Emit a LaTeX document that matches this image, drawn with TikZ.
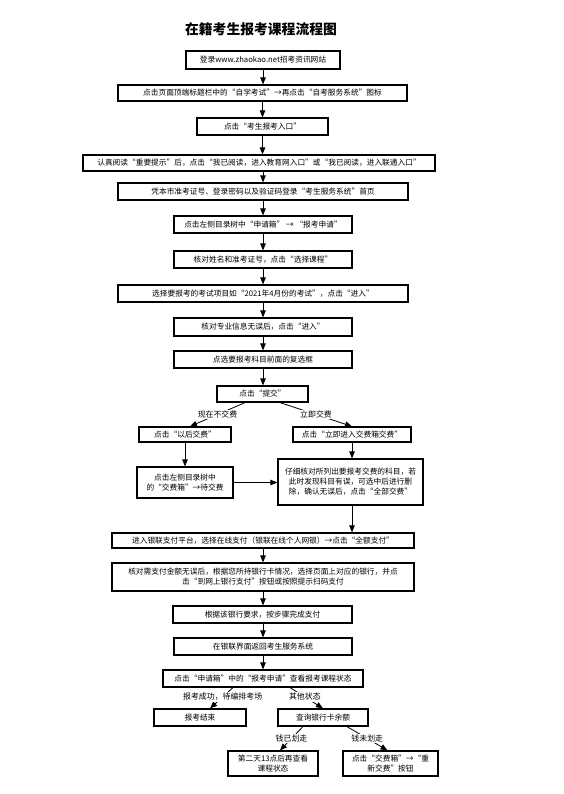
\documentclass[tikz,border=0pt]{standalone}
\usepackage{fontspec}
\setmainfont{Noto Sans CJK SC}
\usetikzlibrary{arrows.meta,calc}
\begin{document}
\begin{tikzpicture}[x=1pt,y=-1pt,
  box/.style={draw,line width=1.2pt,inner sep=1pt,align=center,font=\fontsize{7.7}{10}\selectfont},
  arr/.style={line width=0.8pt,-{Triangle[length=7pt,width=5.5pt]}},
  lbl/.style={fill=white,inner sep=1pt,font=\fontsize{7.9}{9}\selectfont}]
\useasboundingbox (0,0) rectangle (563,794);
\node[font=\fontsize{13.8}{16}\selectfont\bfseries] (title) at (261,29) {在籍考生报考课程流程图};
\node[box,minimum width=154pt,minimum height=18pt] (b1) at (263,60) {登录www.zhaokao.net招考资讯网站};
\node[box,minimum width=289pt,minimum height=16pt] (b2) at (262.5,93) {点击页面顶端标题栏中的“自学考试”→再点击“自考服务系统”图标};
\node[box,minimum width=131pt,minimum height=17pt] (b3) at (262.5,126.5) {点击“考生报考入口”};
\node[box,minimum width=352pt,minimum height=16pt] (b4) at (259,163) {认真阅读“重要提示”后，点击“我已阅读，进入教育网入口”或“我已阅读，进入联通入口”};
\node[box,minimum width=290pt,minimum height=17pt] (b5) at (263,191.5) {凭本市准考证号、登录密码以及验证码登录“考生服务系统”首页};
\node[box,minimum width=178pt,minimum height=17pt] (b6) at (263,224.5) {点击左侧目录树中“申请箱” → “报考申请”};
\node[box,minimum width=178pt,minimum height=17pt] (b7) at (263,259.5) {核对姓名和准考证号，点击“选择课程”};
\node[box,minimum width=290pt,minimum height=17pt] (b8) at (263,293.5) {选择要报考的考试项目如“2021年4月份的考试”，点击“进入”};
\node[box,minimum width=178pt,minimum height=18pt] (b9) at (263,327) {核对专业信息无误后，点击“进入”};
\node[box,minimum width=178pt,minimum height=17pt] (b10) at (263,359.5) {点选要报考科目前面的复选框};
\node[box,minimum width=91pt,minimum height=16pt] (b11) at (262.5,394) {点击“提交”};
\node[box,minimum width=92pt,minimum height=15pt] (bL1) at (185,434.5) {点击“以后交费”};
\node[box,minimum width=118pt,minimum height=15pt] (bR1) at (352,434.5) {点击“立即进入交费箱交费”};
\node[box,minimum width=96pt,minimum height=31pt] (bL2) at (185,482.5) {点击左侧目录树中\\的“交费箱”→待交费};
\node[box,minimum width=145pt,minimum height=46pt] (bR2) at (350.5,482) {仔细核对所列出要报考交费的科目，若\\此时发现科目有误，可选中后进行删\\除，确认无误后，点击“全部交费”};
\node[box,minimum width=302pt,minimum height=15pt] (b12) at (263,540.5) {进入银联支付平台，选择在线支付（银联在线个人网银）→点击“全额支付”};
\node[box,minimum width=302pt,minimum height=28pt] (b13) at (263,577) {核对需支付金额无误后，根据您所持银行卡情况，选择页面上对应的银行，并点\\击“到网上银行支付”按钮或按照提示扫码支付};
\node[box,minimum width=179pt,minimum height=17pt] (b14) at (262.5,614.5) {根据该银行要求，按步骤完成支付};
\node[box,minimum width=178pt,minimum height=17pt] (b15) at (263,646.5) {在银联界面返回考生服务系统};
\node[box,minimum width=200pt,minimum height=17pt] (b16) at (263,678.5) {点击“申请箱”中的“报考申请”查看报考课程状态};
\node[box,minimum width=92pt,minimum height=17pt] (b17) at (200,717.5) {报考结束};
\node[box,minimum width=90pt,minimum height=17pt] (b18) at (323,717.5) {查询银行卡余额};
\node[box,minimum width=90pt,minimum height=25pt] (b19) at (273,763.5) {第二天13点后再查看\\课程状态};
\node[box,minimum width=95pt,minimum height=25pt] (b20) at (390.5,763.5) {点击“交费箱”→“重\\新交费”按钮};
\draw[arr] (b1.south) -- (b1.south |- b2.north);
\draw[arr] (b3.north |- b2.south) -- (b3.north);
\draw[arr] (b3.south) -- (b3.south |- b4.north);
\draw[arr] (b5.north |- b4.south) -- (b5.north);
\draw[arr] (b5.south) -- (b6.north);
\draw[arr] (b6.south) -- (b7.north);
\draw[arr] (b7.south) -- (b8.north);
\draw[arr] (b8.south) -- (b9.north);
\draw[arr] (b9.south) -- (b10.north);
\draw[arr] (b10.south) -- (b10.south |- b11.north);
\draw[arr] ($(b11.south)+(-17.5,0)$) -- node[lbl]{现在不交费} ($(bL1.north)+(5,0)$);
\draw[arr] ($(b11.south)+(17.5,0)$) -- node[lbl]{立即交费} (bR1.north);
\draw[arr] (bL1.south) -- (bL2.north);
\draw[arr] (bR1.south) -- (bR1.south |- bR2.north);
\draw[arr] (bL2.east) -- (bL2.east -| bR2.west);
\draw[arr] (bR1.south |- bR2.south) -- (bR1.south |- b12.north);
\draw[arr] (b12.south) -- (b13.north);
\draw[arr] (b13.south) -- (b13.south |- b14.north);
\draw[arr] (b15.north |- b14.south) -- (b15.north);
\draw[arr] (b15.south) -- (b16.north);
\draw[arr] ($(b16.south)+(-30,0)$) -- node[lbl,pos=0.45]{报考成功，待编排考场} ($(b17.north)+(10,0)$);
\draw[arr] ($(b16.south)+(27,0)$) -- node[lbl,pos=0.45]{其他状态} (b18.north);
\draw[arr] ($(b18.south)+(-20,0)$) -- node[lbl]{钱已划走} ($(b19.north)+(7,0)$);
\draw[arr] ($(b18.south)+(24,0)$) -- node[lbl]{钱未划走} ($(b20.north)+(-3,0)$);
\end{tikzpicture}
\end{document}
